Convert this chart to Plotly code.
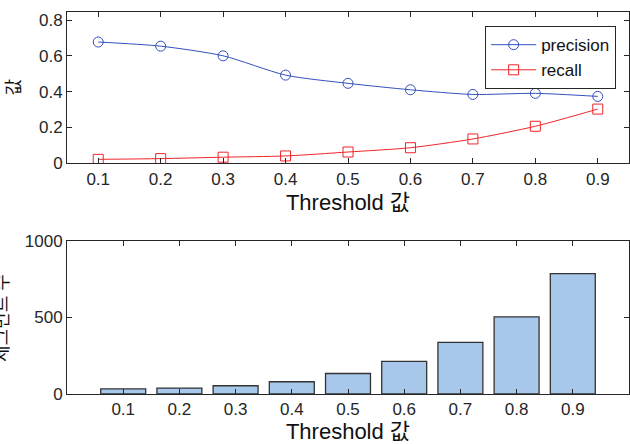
import plotly.graph_objects as go

thresholds = [0.1, 0.2, 0.3, 0.4, 0.5, 0.6, 0.7, 0.8, 0.9]
precision = [0.678, 0.655, 0.601, 0.493, 0.447, 0.411, 0.385, 0.391, 0.374]
recall = [0.022, 0.026, 0.034, 0.041, 0.063, 0.087, 0.136, 0.207, 0.303]
segment_counts = [33, 39, 54, 80, 134, 213, 337, 504, 787]

tick_labels = ["0.1", "0.2", "0.3", "0.4", "0.5", "0.6", "0.7", "0.8", "0.9"]
x_title = "Threshold 값"
y_title_top = "값"
y_title_bottom = "세그먼트 수"

FONT = "Arial, 'Liberation Sans', 'Noto Sans CJK KR', sans-serif"
AX = "#262626"

fig = go.Figure()
fig.add_trace(go.Scatter(
    x=thresholds, y=precision, name="precision", mode="lines+markers",
    line=dict(color="#3350bd", width=1, shape="spline", smoothing=0.7),
    marker=dict(symbol="circle-open", size=10, color="#3350bd", line=dict(width=1)),
    xaxis="x", yaxis="y"))
fig.add_trace(go.Scatter(
    x=thresholds, y=recall, name="recall", mode="lines+markers",
    line=dict(color="#f0262a", width=1, shape="spline", smoothing=0.7),
    marker=dict(symbol="square-open", size=10, color="#f0262a", line=dict(width=1)),
    xaxis="x", yaxis="y"))
fig.add_trace(go.Bar(
    x=thresholds, y=segment_counts, width=0.08, showlegend=False,
    marker=dict(color="#a7c8ea", line=dict(color="#333333", width=1.3)),
    xaxis="x2", yaxis="y2"))

axcommon = dict(showline=True, linecolor=AX, linewidth=1, mirror="ticks",
                ticks="inside", ticklen=5, tickcolor=AX, showgrid=False,
                zeroline=False, automargin=False,
                tickfont=dict(size=17, color=AX, family=FONT))

fig.update_layout(
    width=630, height=444,
    margin=dict(l=67, r=1, t=12, b=50),
    paper_bgcolor="white", plot_bgcolor="white",
    font=dict(family=FONT, color=AX),
    xaxis=dict(domain=[0, 1], anchor="y", range=[0.05, 0.95],
               tickvals=thresholds, ticktext=tick_labels,
               title=dict(text=x_title, font=dict(size=22, color="#111"), standoff=6),
               **axcommon),
    yaxis=dict(domain=[0.604, 1], anchor="x", range=[0, 0.846],
               tickvals=[0, 0.2, 0.4, 0.6, 0.8], ticktext=["0", "0.2", "0.4", "0.6", "0.8"],
               **axcommon),
    xaxis2=dict(domain=[0, 1], anchor="y2", range=[0, 1],
                tickvals=thresholds, ticktext=tick_labels,
                title=dict(text=x_title, font=dict(size=22, color="#111"), standoff=6),
                **axcommon),
    yaxis2=dict(domain=[0, 0.4005], anchor="x2", range=[0, 1000],
                tickvals=[0, 500, 1000], ticktext=["0", "500", "1000"],
                **axcommon),
    legend=dict(x=0.744, y=0.963, xanchor="left", yanchor="top",
                bordercolor=AX, borderwidth=1, bgcolor="white",
                font=dict(size=17, color="#111", family=FONT),
                tracegroupgap=0, itemwidth=45),
    showlegend=True,
    annotations=[
        dict(text=y_title_top, textangle=-90, xref="paper", yref="paper",
             x=(14 - 67) / 562, y=(394 - 87.5) / 382, showarrow=False,
             xanchor="center", yanchor="middle", font=dict(size=18, color="#111")),
        dict(text=y_title_bottom, textangle=-90, xref="paper", yref="paper",
             x=(2 - 67) / 562, y=(394 - 318) / 382, showarrow=False,
             xanchor="center", yanchor="middle", font=dict(size=18, color="#111")),
    ],
)

fig.write_html(
    "out.html",
    config={"displayModeBar": False},
    post_script="document.body.style.margin='0';document.body.style.overflow='hidden';",
)
